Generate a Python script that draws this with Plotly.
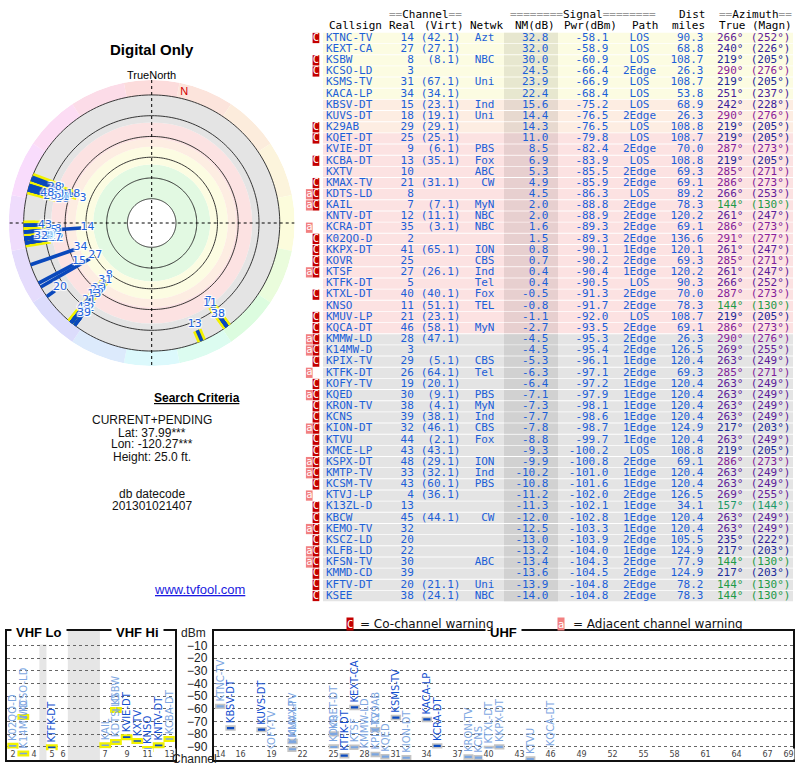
import colorsys
import numpy as np
import plotly.graph_objects as go

# ---------------------------------------------------------------- data
callsign = ["KTNC-TV", "KEXT-CA", "KSBW", "KCSO-LD", "KSMS-TV", "KACA-LP", "KBSV-DT", "KUVS-DT", "K29AB", "KQET-DT",
            "KVIE-DT", "KCBA-DT", "KXTV", "KMAX-TV", "KDTS-LD", "KAIL", "KNTV-DT", "KCRA-DT", "K02QO-D", "KKPX-DT",
            "KOVR", "KTSF", "KTFK-DT", "KTXL-DT", "KNSO", "KMUV-LP", "KQCA-DT", "KMMW-LD", "K14MW-D", "KPIX-TV",
            "KTFK-DT", "KOFY-TV", "KQED", "KRON-TV", "KCNS", "KION-DT", "KTVU", "KMCE-LP", "KSPX-DT", "KMTP-TV",
            "KCSM-TV", "KTVJ-LP", "K13ZL-D", "KBCW", "KEMO-TV", "KSCZ-LD", "KLFB-LD", "KFSN-TV", "KMMD-CD", "KFTV-DT",
            "KSEE"]
real_ch = [14, 27, 8, 3, 31, 34, 15, 18, 29, 25,
           9, 13, 10, 21, 8, 7, 12, 35, 2, 41,
           25, 27, 5, 40, 11, 21, 46, 28, 3, 29,
           26, 19, 30, 38, 39, 32, 44, 43, 48, 33,
           43, 4, 13, 45, 32, 20, 22, 30, 39, 20,
           38]
virt_ch = ["(42.1)", "(27.1)", "(8.1)", "", "(67.1)", "(34.1)", "(23.1)", "(19.1)", "(29.1)", "(25.1)",
           "(6.1)", "(35.1)", "", "(31.1)", "", "(7.1)", "(11.1)", "(3.1)", "", "(65.1)",
           "", "(26.1)", "", "(40.1)", "(51.1)", "(23.1)", "(58.1)", "(47.1)", "", "(5.1)",
           "(64.1)", "(20.1)", "(9.1)", "(4.1)", "(38.1)", "(46.1)", "(2.1)", "(43.1)", "(29.1)", "(32.1)",
           "(60.1)", "(36.1)", "", "(44.1)", "", "", "", "", "", "(21.1)",
           "(24.1)"]
network = ["Azt", "", "NBC", "", "Uni", "", "Ind", "Uni", "", "",
           "PBS", "Fox", "ABC", "CW", "", "MyN", "NBC", "NBC", "", "ION",
           "CBS", "Ind", "Tel", "Fox", "TEL", "", "MyN", "", "", "CBS",
           "Tel", "", "PBS", "MyN", "Ind", "CBS", "Fox", "", "ION", "Ind",
           "PBS", "", "", "CW", "", "", "", "ABC", "", "Uni",
           "NBC"]
nm_db = [32.8, 32.0, 30.0, 24.5, 23.9, 22.4, 15.6, 14.4, 14.3, 11.0,
         8.5, 6.9, 5.3, 4.9, 4.5, 2.0, 2.0, 1.6, 1.5, 0.8,
         0.7, 0.4, 0.4, -0.5, -0.8, -1.1, -2.7, -4.5, -4.5, -5.3,
         -6.3, -6.4, -7.1, -7.3, -7.7, -7.8, -8.8, -9.3, -9.9, -10.2,
         -10.8, -11.2, -11.3, -12.0, -12.5, -13.0, -13.2, -13.4, -13.6, -13.9,
         -14.0]
pwr_dbm = [-58.1, -58.9, -60.9, -66.4, -66.9, -68.4, -75.2, -76.5, -76.5, -79.8,
           -82.4, -83.9, -85.5, -85.9, -86.3, -88.8, -88.9, -89.3, -89.3, -90.1,
           -90.2, -90.4, -90.5, -91.3, -91.7, -92.0, -93.5, -95.3, -95.4, -96.1,
           -97.1, -97.2, -97.9, -98.1, -98.6, -98.7, -99.7, -100.2, -100.8, -101.0,
           -101.6, -102.0, -102.1, -102.8, -103.3, -103.9, -104.0, -104.3, -104.5, -104.8,
           -104.8]
path = ["LOS", "LOS", "LOS", "2Edge", "LOS", "LOS", "LOS", "2Edge", "LOS", "LOS",
        "2Edge", "LOS", "2Edge", "2Edge", "LOS", "2Edge", "2Edge", "2Edge", "2Edge", "1Edge",
        "2Edge", "1Edge", "LOS", "2Edge", "2Edge", "LOS", "2Edge", "2Edge", "2Edge", "1Edge",
        "2Edge", "1Edge", "1Edge", "1Edge", "1Edge", "1Edge", "1Edge", "LOS", "2Edge", "1Edge",
        "1Edge", "2Edge", "1Edge", "1Edge", "1Edge", "2Edge", "1Edge", "2Edge", "2Edge", "2Edge",
        "2Edge"]
dist_mi = [90.3, 68.8, 108.7, 26.3, 108.7, 53.8, 68.9, 26.3, 108.8, 108.7,
           70.0, 108.8, 69.3, 69.1, 89.2, 78.3, 120.2, 69.1, 136.6, 120.1,
           69.3, 120.2, 90.3, 70.0, 78.3, 108.7, 69.1, 26.3, 126.5, 120.4,
           69.3, 120.4, 120.4, 120.4, 120.4, 124.9, 120.4, 108.8, 69.1, 120.4,
           120.4, 126.5, 34.1, 120.4, 120.4, 105.5, 124.9, 77.9, 124.9, 78.2,
           78.3]
az_true = [266, 240, 219, 290, 219, 251, 242, 290, 219, 219,
           287, 219, 285, 286, 266, 144, 261, 286, 291, 261,
           285, 261, 266, 287, 144, 219, 286, 290, 269, 263,
           285, 263, 263, 263, 263, 217, 263, 219, 286, 263,
           263, 269, 157, 263, 263, 235, 217, 144, 217, 144,
           144]
az_magn = [252, 226, 205, 276, 205, 237, 228, 276, 205, 205,
           273, 205, 271, 273, 253, 130, 247, 273, 277, 247,
           271, 247, 252, 273, 130, 205, 273, 276, 255, 249,
           271, 249, 249, 249, 249, 203, 249, 205, 273, 249,
           249, 255, 144, 249, 249, 222, 203, 130, 203, 130,
           130]
co_warn = [1, 0, 1, 1, 0, 0, 0, 0, 1, 1,
           0, 1, 0, 1, 1, 1, 0, 0, 1, 1,
           1, 1, 0, 1, 0, 1, 1, 1, 1, 1,
           0, 1, 1, 1, 1, 1, 1, 1, 1, 1,
           1, 0, 1, 1, 1, 1, 1, 1, 1, 1,
           1]
adj_warn = [0, 0, 0, 0, 0, 0, 0, 0, 0, 0,
            0, 0, 0, 0, 1, 1, 0, 1, 0, 0,
            0, 1, 0, 0, 0, 0, 0, 1, 1, 0,
            1, 0, 1, 0, 0, 1, 0, 0, 1, 1,
            0, 1, 0, 0, 1, 0, 1, 1, 0, 0,
            0]

vhf_ticks = [2, 4, 5, 6, 7, 9, 11, 13]
uhf_ticks = [14, 16, 19, 22, 25, 28, 31, 34, 37, 40, 43, 46, 49, 52, 55, 58, 61, 64, 67, 69]
dbm_ticks = [-10, -20, -30, -40, -50, -60, -70, -80, -90]
ring_nm = [70, 50, 30, 10, -10, -30]
band_floor = [70, 37, 20, 12, -3.5, -30]
band_color = ["#ffffff", "#e2f9e2", "#fcfce2", "#fdede2", "#fce2e2", "#e4e4e4"]

# ---------------------------------------------------------------- helpers
W, H = 800, 768
MONO = "DejaVu Sans Mono"
SANS = "Liberation Sans"
VSANS = "DejaVu Sans"
BLUE_TXT = "#1c5fd8"
DARK_BAR, LIGHT_BAR = "#0b4bc0", "#7ba6e0"
DARK_LBL, LIGHT_LBL = "#1450cf", "#7ea7e2"
n = len(callsign)
rows = list(range(n))


def px(x):
    return x / W


def py(y):
    return 1 - y / H


def hue_of_bearing(b):
    return float(np.interp(b, [0, 90, 144, 219, 290, 330, 360], [0, 60, 140, 235, 292, 330, 360]))


def hls_hex(h, l, s):
    r, g, b = colorsys.hls_to_rgb((h % 360) / 360.0, l, s)
    return "#%02x%02x%02x" % (round(r * 255), round(g * 255), round(b * 255))


def darker(hexcol, k=0.915):
    r, g, b = (int(hexcol[i:i + 2], 16) for i in (1, 3, 5))
    return "#%02x%02x%02x" % (round(r * k), round(g * k), round(b * k))


def band_of(nm):
    for fl, col in zip(band_floor, band_color):
        if nm >= fl:
            return col
    return band_color[-1]


fig = go.Figure()

# ---------------------------------------------------------------- table
row_col = [band_of(v) for v in nm_db]
fig.add_trace(go.Bar(orientation="h", y=rows, x=[470] * n, base=[323] * n, width=0.92,
                     marker=dict(color=row_col, line=dict(width=0)), xaxis="x", yaxis="y",
                     hoverinfo="skip", showlegend=False))
fig.add_trace(go.Bar(orientation="h", y=rows, x=[54] * n, base=[504] * n, width=0.92,
                     marker=dict(color=[darker(c) for c in row_col], line=dict(width=0)),
                     xaxis="x", yaxis="y", hoverinfo="skip", showlegend=False))
c_rows = [i for i in rows if co_warn[i]]
a_rows = [i for i in rows if adj_warn[i]]
fig.add_trace(go.Bar(orientation="h", y=c_rows, x=[6.7] * len(c_rows), base=[312.6] * len(c_rows), width=0.92,
                     marker=dict(color="#c40000", line=dict(width=0)), xaxis="x", yaxis="y",
                     hoverinfo="skip", showlegend=False))
fig.add_trace(go.Bar(orientation="h", y=a_rows, x=[6.7] * len(a_rows), base=[305.9] * len(a_rows), width=0.92,
                     marker=dict(color="#f28080", line=dict(width=0)), xaxis="x", yaxis="y",
                     hoverinfo="skip", showlegend=False))


def col_text(xpos, ys, texts, pos, colors=BLUE_TXT, size=11, family=MONO):
    fig.add_trace(go.Scatter(x=[xpos] * len(ys), y=ys, mode="text", text=texts, textposition=pos,
                             textfont=dict(family=family, size=size, color=colors), marker=dict(size=1),
                             xaxis="x", yaxis="y", hoverinfo="skip", showlegend=False, cliponaxis=False))


col_text(316.0, c_rows, ["C"] * len(c_rows), "middle center", "#ffffff", 10.5)
col_text(309.3, a_rows, ["a"] * len(a_rows), "middle center", "#ffffff", 10.5)
col_text(326.0, rows, callsign, "middle right")
col_text(413.8, rows, [str(c) for c in real_ch], "middle left")
col_text(460.5, rows, virt_ch, "middle left")
col_text(494.5, rows, network, "middle left")
col_text(548.5, rows, ["%.1f" % v for v in nm_db], "middle left")
col_text(608.5, rows, ["%.1f" % v for v in pwr_dbm], "middle left")
col_text(639.5, rows, path, "middle center")
col_text(703.5, rows, ["%.1f" % v for v in dist_mi], "middle left")
az_col = [hls_hex(hue_of_bearing(b), 0.36, 0.68) for b in az_true]
col_text(743.5, rows, ["%d\u00b0" % a for a in az_true], "middle left", az_col)
col_text(790.5, rows, ["(%d\u00b0)" % a for a in az_magn], "middle left", az_col)

ann = []


def text_at(x, y, s, size=11, family=MONO, color="#000", xanchor="left", **kw):
    ann.append(dict(x=px(x), y=py(y), xref="paper", yref="paper", text=s, showarrow=False,
                    xanchor=xanchor, yanchor="middle", font=dict(family=family, size=size, color=color), **kw))


G = '<span style="color:#9a9a9a">%s</span>'
text_at(386.5, 14.5, G % "==" + "Channel" + G % "==")
text_at(508.0, 14.5, G % "========" + "Signal" + G % "========")
text_at(676.5, 14.5, "Dist")
text_at(716.5, 14.5, G % "==" + "Azimuth" + G % "==")
for xx, s in [(326.5, "Callsign"), (387.0, "Real"), (422.5, "(Virt)"), (468.0, "Netwk"), (513.0, "NM(dB)"),
              (561.5, "Pwr(dBm)"), (630.0, "Path"), (670.0, "miles"), (716.5, "True"), (750.0, "(Magn)")]:
    text_at(xx, 25.5, s)

# ---------------------------------------------------------------- polar
TOP = 93.4            # NM value at the polar centre (radial units = dB below TOP)
RHO_MAX = 137.8
LINE_GAP = 7.5


def rho(nm):
    return TOP - nm


# hue rim
sect = list(np.arange(0, 360, 22.5))
fig.add_trace(go.Barpolar(theta=sect, r=[RHO_MAX - rho(-30)] * len(sect), base=[rho(-30)] * len(sect),
                          width=[22.5] * len(sect),
                          marker=dict(color=[hls_hex(hue_of_bearing(b), 0.925, 0.85) for b in sect],
                                      line=dict(width=0)),
                          subplot="polar", hoverinfo="skip", showlegend=False))
# strength bands
uppers = [TOP] + band_floor[:-1]
fig.add_trace(go.Barpolar(theta=[0] * len(band_floor), width=[360] * len(band_floor),
                          base=[rho(u) for u in uppers],
                          r=[rho(f) - rho(u) for f, u in zip(band_floor, uppers)],
                          marker=dict(color=band_color, line=dict(width=0)),
                          subplot="polar", hoverinfo="skip", showlegend=False))
# rings
th = list(np.linspace(0, 360, 241))
rr, tt = [], []
for v in ring_nm:
    rr += [rho(v)] * len(th) + [None]
    tt += th + [None]
fig.add_trace(go.Scatterpolar(r=rr, theta=tt, mode="lines", line=dict(color="#222", width=0.9),
                              subplot="polar", hoverinfo="skip", showlegend=False))
fig.add_trace(go.Scatterpolar(r=[RHO_MAX, 0, RHO_MAX, None, RHO_MAX, 0, RHO_MAX],
                              theta=[0, 0, 180, None, 90, 90, 270], mode="lines",
                              line=dict(color="#000", width=1, dash="dot"),
                              subplot="polar", hoverinfo="skip", showlegend=False))


# station lines
def seg(idx):
    r, t = [], []
    for i in idx:
        r += [rho(nm_db[i]) + LINE_GAP, rho(-30), None]
        t += [az_true[i], az_true[i], None]
    return r, t


vhf_all = [i for i in rows if real_ch[i] <= 13]
r1, t1 = seg(vhf_all)
fig.add_trace(go.Scatterpolar(r=r1, theta=t1, mode="lines", line=dict(color="#f2f200", width=9),
                              subplot="polar", hoverinfo="skip", showlegend=False))
r2, t2 = seg(rows)
fig.add_trace(go.Scatterpolar(r=r2, theta=t2, mode="lines", line=dict(color="#0a48bc", width=3.6),
                              subplot="polar", hoverinfo="skip", showlegend=False))
SH = "1px 1px 1px #fff, -1px -1px 1px #fff, 1px -1px 1px #fff, -1px 1px 1px #fff"
fig.add_trace(go.Scatterpolar(r=[rho(v) + 1.5 for v in nm_db], theta=az_true, mode="text",
                              text=[str(c) for c in real_ch],
                              textfont=dict(family=VSANS, size=11, color="#1c62dc", shadow=SH),
                              subplot="polar", hoverinfo="skip", showlegend=False))
decl = az_true[0] - az_magn[0]
fig.add_trace(go.Scatterpolar(r=[rho(-30) + 6], theta=[decl], mode="text", text=["N"],
                              textfont=dict(family=SANS, size=11, color="#d40000"),
                              subplot="polar", hoverinfo="skip", showlegend=False))

# ---------------------------------------------------------------- bottom charts
FM_CUT = 68  # MHz removed between VHF-Lo and VHF-Hi (FM band compressed)
PWR_FLOOR = -100
BAR_H = 3.0


def vhf_pos(ch):
    if ch <= 4:
        return 54 + 6 * (ch - 2) + 3
    if ch <= 6:
        return 76 + 6 * (ch - 5) + 3
    return 174 + 6 * (ch - 7) + 3 - FM_CUT


vi = [i for i in rows if real_ch[i] <= 13 and pwr_dbm[i] >= PWR_FLOOR]
ui = [i for i in rows if real_ch[i] >= 14 and pwr_dbm[i] >= PWR_FLOOR]


def bars(idx, xs, width, halo, halo_w, ax, ay):
    fig.add_trace(go.Bar(x=xs, y=[BAR_H] * len(idx), base=[pwr_dbm[i] - BAR_H / 2 for i in idx], width=width,
                         marker=dict(color=[LIGHT_BAR if co_warn[i] else DARK_BAR for i in idx],
                                     line=dict(color=halo, width=halo_w)),
                         text=[callsign[i] for i in idx], textposition="outside", textangle=-90,
                         constraintext="none", cliponaxis=False,
                         textfont=dict(family=VSANS, size=10,
                                       color=[LIGHT_LBL if co_warn[i] else DARK_LBL for i in idx]),
                         xaxis=ax, yaxis=ay, hoverinfo="skip", showlegend=False))


bars(vi, [vhf_pos(real_ch[i]) for i in vi], 5.4, "#f2f200", 2.2, "x2", "y2")
bars(ui, [real_ch[i] for i in ui], 0.85, "#c4c4c4", 1.6, "x3", "y3")

shapes = []
for x0, x1 in [(72, 76), (88, 174 - FM_CUT)]:
    shapes.append(dict(type="rect", xref="x2", yref="y2 domain", x0=x0, x1=x1, y0=0, y1=1,
                       fillcolor="#e6e6e6", line=dict(width=0), layer="below"))

for ch in vhf_ticks:
    ann.append(dict(x=vhf_pos(ch), y=0, xref="x2", yref="y2 domain", text=str(ch), showarrow=False,
                    font=dict(family=VSANS, size=8, color="#444"), bgcolor="#fff", borderpad=0.5))
for ch in uhf_ticks:
    ann.append(dict(x=ch, y=0, xref="x3", yref="y3 domain", text=str(ch), showarrow=False,
                    font=dict(family=VSANS, size=8, color="#444"), bgcolor="#fff", borderpad=0.5))

for xx, s in [(39, "VHF Lo"), (137, "VHF Hi"), (503, "UHF")]:
    text_at(xx, 632, "<b>%s</b>" % s, size=13, family=SANS, xanchor="center", bgcolor="#fff", borderpad=4)
text_at(193.5, 632.5, "dBm", size=12, family=SANS, xanchor="center", color="#222")
text_at(194, 758.5, "Channel", size=12, family=SANS, xanchor="center", color="#222")

# legend
text_at(350, 624, "C", size=10.5, family=MONO, xanchor="center", color="#fff", bgcolor="#c40000", borderpad=0)
text_at(358, 624, "= Co-channel warning", size=12, family=VSANS, color="#111")
text_at(561.2, 624, "a", size=10.5, family=MONO, xanchor="center", color="#fff", bgcolor="#f28080", borderpad=0)
text_at(571, 624, "= Adjacent channel warning", size=12, family=VSANS, color="#111")

# left panel texts
text_at(151.7, 50, "<b>Digital Only</b>", size=15, family=SANS, xanchor="center")
text_at(151.7, 74.5, "TrueNorth", size=11, family=SANS, xanchor="center")
ann.append(dict(x=px(151.7), y=py(398), xref="paper", yref="paper", text="<b>Search Criteria</b>",
                showarrow=False, font=dict(family=SANS, size=12, color="#000", lineposition="under")))
for yy, s in [(419.5, "CURRENT+PENDING"), (432.5, "Lat: 37.99***"), (443.5, "Lon: -120.27***"),
              (456.5, "Height: 25.0 ft."), (494, "db datecode"), (506, "201301021407")]:
    text_at(151.7, yy, s, size=12, family=SANS, xanchor="center", color="#111")
ann.append(dict(x=px(152), y=py(598.5), xref="paper", yref="paper", text="www.tvfool.com",
                showarrow=False, font=dict(family=SANS, size=13, color="#1a1ae0", lineposition="under")))

# ---------------------------------------------------------------- layout
ROWPX, ROW0 = 11.16, 38.0
fig.update_layout(
    width=W, height=H, margin=dict(l=0, r=0, t=0, b=0), paper_bgcolor="#fff", plot_bgcolor="rgba(0,0,0,0)",
    barmode="overlay", showlegend=False, annotations=ann, shapes=shapes,
    xaxis=dict(domain=[px(300), 1], range=[300, 800], visible=False, fixedrange=True),
    yaxis=dict(domain=[py(615), 1], range=[(615 - ROW0) / ROWPX, -ROW0 / ROWPX], visible=False, fixedrange=True),
    xaxis2=dict(domain=[px(7.3), px(174.7)], range=[54, 216 - FM_CUT], anchor="y2", showgrid=False,
                zeroline=False, showticklabels=False, ticks="", showline=True, mirror=True,
                linewidth=2, linecolor="#111"),
    yaxis2=dict(domain=[py(760), py(631)], range=[-100.5, 1.6], anchor="x2", side="right",
                tickvals=dbm_ticks, ticks="outside", ticklen=8, tickcolor="rgba(0,0,0,0)",
                tickfont=dict(family=SANS, size=12, color="#222"), showgrid=True, gridcolor="#666",
                griddash="dot", gridwidth=1, zeroline=False, showline=True, mirror=True,
                linewidth=2, linecolor="#111"),
    xaxis3=dict(domain=[px(214), px(792.7)], range=[13.4, 69.4], anchor="y3", showgrid=False,
                zeroline=False, showticklabels=False, ticks="", showline=True, mirror=True,
                linewidth=2, linecolor="#111"),
    yaxis3=dict(domain=[py(760), py(631)], range=[-100.5, 1.6], anchor="x3", tickvals=dbm_ticks,
                showticklabels=False, ticks="", showgrid=True, gridcolor="#666", griddash="dot",
                gridwidth=1, zeroline=False, showline=True, mirror=True, linewidth=2, linecolor="#111"),
    polar=dict(domain=dict(x=[px(151.7 - 143), px(151.7 + 143)], y=[py(223 + 143), py(223 - 143)]),
               bgcolor="rgba(0,0,0,0)",
               radialaxis=dict(range=[0, RHO_MAX], visible=False),
               angularaxis=dict(rotation=90, direction="clockwise", visible=False),
               barmode="overlay"),
)

fig.write_html("out.html", config={"displayModeBar": False},
               post_script="document.body.style.margin='0';document.body.style.overflow='hidden';")
